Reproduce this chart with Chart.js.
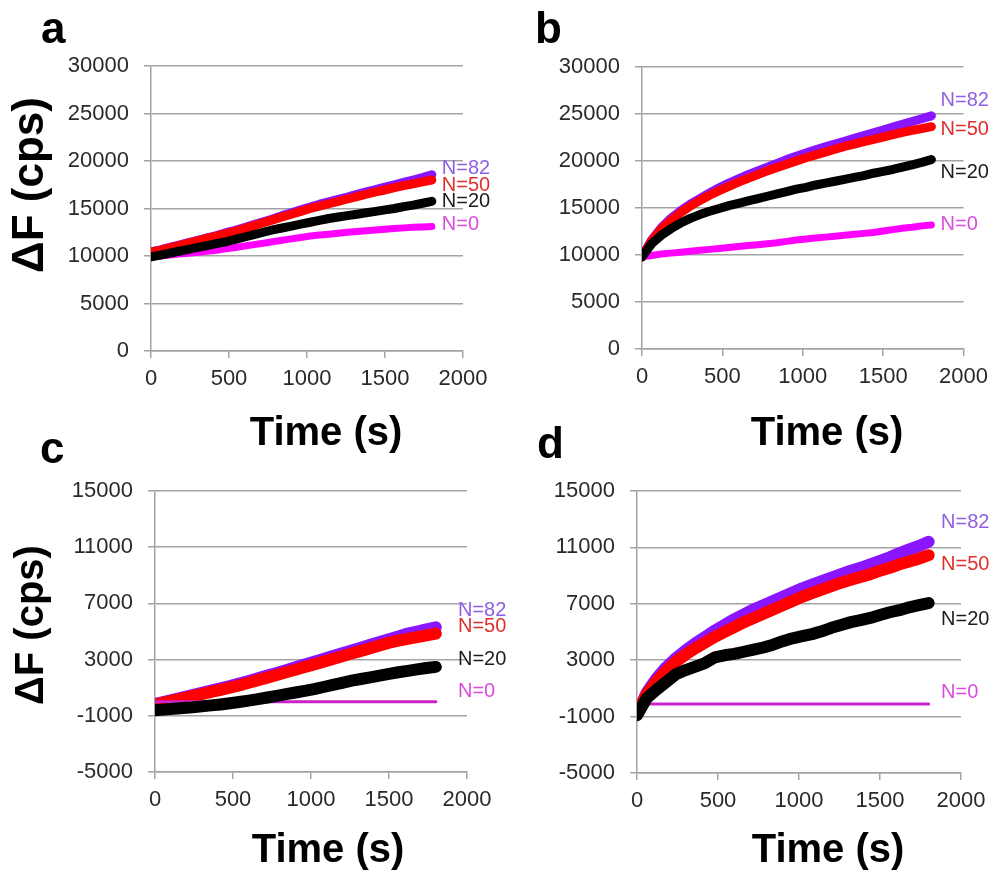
<!DOCTYPE html>
<html>
<head>
<meta charset="utf-8">
<script src="https://cdn.jsdelivr.net/npm/chart.js@4.4.1/dist/chart.umd.min.js"></script>
<style>
  html, body { margin:0; padding:0; background:#fff; }
  #wrap { position:relative; width:996px; height:873px; overflow:hidden;
          font-family:"Liberation Sans", Arial, sans-serif; }
  #wrap canvas { position:absolute; }
  .txt { position:absolute; font-weight:bold; color:#000; white-space:nowrap; }
  .ytitle { transform:translate(-50%,-50%) rotate(-90deg); line-height:1; }
  .xtitle { width:240px; text-align:center; font-size:40px; line-height:40px; }
  .letter { font-size:44px; line-height:44px; }
</style>
</head>
<body>
<div id="wrap">
  <canvas id="pa" width="498" height="436" style="left:0;top:0"></canvas>
  <canvas id="pb" width="498" height="436" style="left:498px;top:0"></canvas>
  <canvas id="pd" width="498" height="437" style="left:498px;top:436px"></canvas>
  <canvas id="pc" width="540" height="437" style="left:0;top:436px"></canvas>

  <div class="txt letter" style="left:41px;top:6px">a</div>
  <div class="txt letter" style="left:535px;top:6px">b</div>
  <div class="txt letter" style="left:40px;top:426px">c</div>
  <div class="txt letter" style="left:537px;top:421px">d</div>

  <div class="txt ytitle" style="left:28px;top:185px;font-size:44px">ΔF (cps)</div>
  <div class="txt ytitle" style="left:29px;top:625px;font-size:40px">ΔF (cps)</div>

  <div class="txt xtitle" style="left:206px;top:411px">Time (s)</div>
  <div class="txt xtitle" style="left:707px;top:411px">Time (s)</div>
  <div class="txt xtitle" style="left:208px;top:828px">Time (s)</div>
  <div class="txt xtitle" style="left:708px;top:828px">Time (s)</div>
</div>
<script>
// time axis shared by all traces (s)
const times = [0,60,120,180,240,300,360,420,480,540,600,660,720,780,840,900,960,1020,1080,1140,1200,1260,1320,1380,1440,1500,1560,1620,1680,1740,1800];
const flatTimes = [0, 1800];
const xTicks = [0, 500, 1000, 1500, 2000];

// panel a
const aPurple  = [10450,10650,10900,11150,11400,11650,11900,12150,12450,12700,13000,13300,13600,13900,14250,14550,14850,15150,15450,15700,15950,16200,16500,16750,17000,17250,17500,17750,18000,18250,18550];
const aRed     = [10400,10600,10850,11100,11350,11600,11850,12100,12350,12600,12900,13200,13500,13800,14100,14400,14700,15000,15250,15500,15750,16000,16250,16500,16750,16950,17200,17400,17600,17800,18000];
const aBlack   = [9900,10100,10300,10500,10700,10900,11100,11300,11500,11750,12000,12250,12500,12750,12950,13150,13350,13550,13750,13950,14100,14250,14400,14550,14700,14850,15000,15200,15350,15550,15750];
const aMagenta = [9900,10000,10100,10200,10300,10400,10500,10600,10750,10900,11050,11200,11350,11500,11650,11800,11950,12100,12200,12300,12400,12500,12580,12660,12740,12820,12900,12960,13020,13060,13100];

// panel b
const bPurple  = [9800,11600,12900,13900,14700,15400,16000,16600,17150,17650,18100,18550,18950,19350,19750,20150,20500,20850,21200,21500,21800,22100,22400,22700,23000,23300,23600,23900,24200,24500,24800];
const bRed     = [9800,11500,12750,13700,14500,15200,15800,16350,16850,17300,17750,18150,18550,18950,19300,19650,20000,20350,20650,20950,21250,21550,21800,22050,22300,22550,22800,23050,23250,23450,23650];
const bBlack   = [9800,11200,12100,12800,13400,13900,14300,14650,14950,15250,15500,15750,16000,16250,16500,16750,17000,17200,17450,17650,17850,18050,18250,18450,18700,18900,19100,19350,19600,19850,20150];
const bMagenta = [9800,9950,10100,10200,10300,10400,10500,10600,10700,10800,10900,11000,11100,11200,11300,11450,11600,11700,11800,11900,12000,12100,12200,12300,12400,12550,12700,12850,12950,13100,13200];

// panel c
const cPurple  = [-150,0,160,320,480,640,800,960,1120,1300,1480,1670,1860,2050,2250,2450,2650,2850,3050,3250,3450,3650,3850,4050,4250,4450,4650,4850,5000,5150,5300];
const cRed     = [-200,-50,100,250,400,550,700,850,1000,1170,1350,1540,1720,1900,2100,2280,2470,2660,2850,3050,3240,3430,3620,3810,4000,4200,4350,4480,4600,4730,4850];
const cBlack   = [-600,-550,-500,-450,-400,-330,-260,-190,-110,-20,80,190,300,420,540,660,780,900,1050,1200,1350,1500,1620,1740,1860,1980,2100,2200,2300,2400,2480];
const cMagenta = [0, 0];

// panel d
const dPurple  = [-800,700,1700,2500,3150,3700,4200,4650,5100,5500,5900,6250,6600,6900,7200,7500,7800,8100,8350,8600,8850,9100,9350,9550,9800,10050,10300,10600,10850,11100,11400];
const dRed     = [-800,600,1500,2250,2900,3400,3850,4250,4650,5000,5350,5700,6000,6300,6600,6900,7200,7500,7750,8000,8250,8500,8700,8900,9100,9350,9550,9800,10000,10200,10450];
const dBlack   = [-900,300,900,1450,2000,2300,2550,2800,3200,3350,3450,3600,3750,3900,4100,4350,4550,4700,4850,5050,5300,5500,5700,5850,6000,6200,6400,6550,6750,6900,7050];
const dMagenta = [-100, -100];

// curve labels (N = ...) : text, colour, y value per panel, x value per panel
const labelText   = ['N=82', 'N=50', 'N=20', 'N=0'];
const labelColors = ['#8f5fe6', '#e0302c', '#1c1c1c', '#dc4cdc'];
const aLabelY = [19160, 17420, 15740, 13320];
const bLabelY = [26440, 23350, 18780, 13245];
const cLabelY = [6530, 5356, 3043, 730];
const dLabelY = [12770, 9820, 5890, 710];
const labelX  = { a: 1864, b: 1857, c: 1942, d: 1877 };

const GRID = '#a3a3a3';
const PURPLE = '#8a16ff', RED = '#ff0000', BLACK = '#000000', MAGENTA = '#ff00ff', MAGENTA_FLAT = '#cc22cc';

Chart.defaults.font.family = '"Liberation Sans", Arial, sans-serif';
Chart.defaults.font.size = 22;
Chart.defaults.color = '#2a2a2a';

function pts(xs, ys){ return xs.map((x,i)=>({x:x, y:ys[i]})); }

function trace(xs, ys, color, width, order){
  return {
    data: pts(xs, ys), borderColor: color, backgroundColor: color,
    borderWidth: width, pointRadius: 0, tension: 0, fill: false,
    borderJoinStyle: 'round', borderCapStyle: 'round', order: order
  };
}

// draws the N=.. labels at data positions
const nLabels = {
  id: 'nLabels',
  afterDatasetsDraw(chart, args, opts){
    const {ctx, scales:{x, y}} = chart;
    ctx.save();
    ctx.font = '20px "Liberation Sans", Arial, sans-serif';
    ctx.textAlign = 'left';
    ctx.textBaseline = 'middle';
    opts.ys.forEach((v, i)=>{
      ctx.fillStyle = labelColors[i];
      ctx.fillText(labelText[i], x.getPixelForValue(opts.x), y.getPixelForValue(v));
    });
    ctx.restore();
  }
};

function panel(id, datasets, yMin, yMax, yStep, pad, labYs, labX){
  new Chart(document.getElementById(id), {
    type: 'line',
    data: { datasets: datasets },
    options: {
      responsive: false, animation: false, events: [],
      layout: { padding: pad },
      plugins: {
        legend: { display: false }, tooltip: { enabled: false },
        nLabels: { ys: labYs, x: labX }
      },
      scales: {
        x: {
          type: 'linear', min: 0, max: 2000,
          afterBuildTicks: s => { s.ticks = xTicks.map(v=>({value:v})); },
          ticks: { callback: v => String(v), padding: 8, maxRotation: 0 },
          grid: { drawOnChartArea: false, tickLength: 7, color: GRID, lineWidth: 1.5 },
          border: { color: GRID, width: 1.5 },
          afterFit: s => { s.height = 50; }
        },
        y: {
          min: yMin, max: yMax,
          ticks: { stepSize: yStep, callback: v => String(v), padding: 15 },
          grid: { tickLength: 7, color: GRID, lineWidth: 1.5 },
          border: { color: GRID, width: 1.5 },
          afterFit: s => { s.width = 100; }
        }
      }
    },
    plugins: [nLabels]
  });
}

panel('pa', [
  trace(times, aPurple,  PURPLE,  9, 3),
  trace(times, aRed,     RED,     9, 2),
  trace(times, aMagenta, MAGENTA, 7, 1),
  trace(times, aBlack,   BLACK,   9, 0)
], 0, 30000, 5000, {left:51, right:35, top:66, bottom:35}, aLabelY, labelX.a);

panel('pb', [
  trace(times, bPurple,  PURPLE,  9, 3),
  trace(times, bRed,     RED,     9, 2),
  trace(times, bMagenta, MAGENTA, 7, 1),
  trace(times, bBlack,   BLACK,   9, 0)
], 0, 30000, 5000, {left:44, right:32, top:67, bottom:37}, bLabelY, labelX.b);

panel('pc', [
  trace(times, cPurple,  PURPLE,  12, 3),
  trace(times, cRed,     RED,     12, 2),
  trace(flatTimes, cMagenta, MAGENTA_FLAT, 3, 1),
  trace(times, cBlack,   BLACK,   12, 0)
], -5000, 15000, 4000, {left:55, right:73, top:55, bottom:51}, cLabelY, labelX.c);

panel('pd', [
  trace(times, dPurple,  PURPLE,  12, 3),
  trace(times, dRed,     RED,     12, 2),
  trace(flatTimes, dMagenta, MAGENTA_FLAT, 3, 1),
  trace(times, dBlack,   BLACK,   12, 0)
], -5000, 15000, 4000, {left:39, right:35, top:55, bottom:50}, dLabelY, labelX.d);
</script>
</body>
</html>
